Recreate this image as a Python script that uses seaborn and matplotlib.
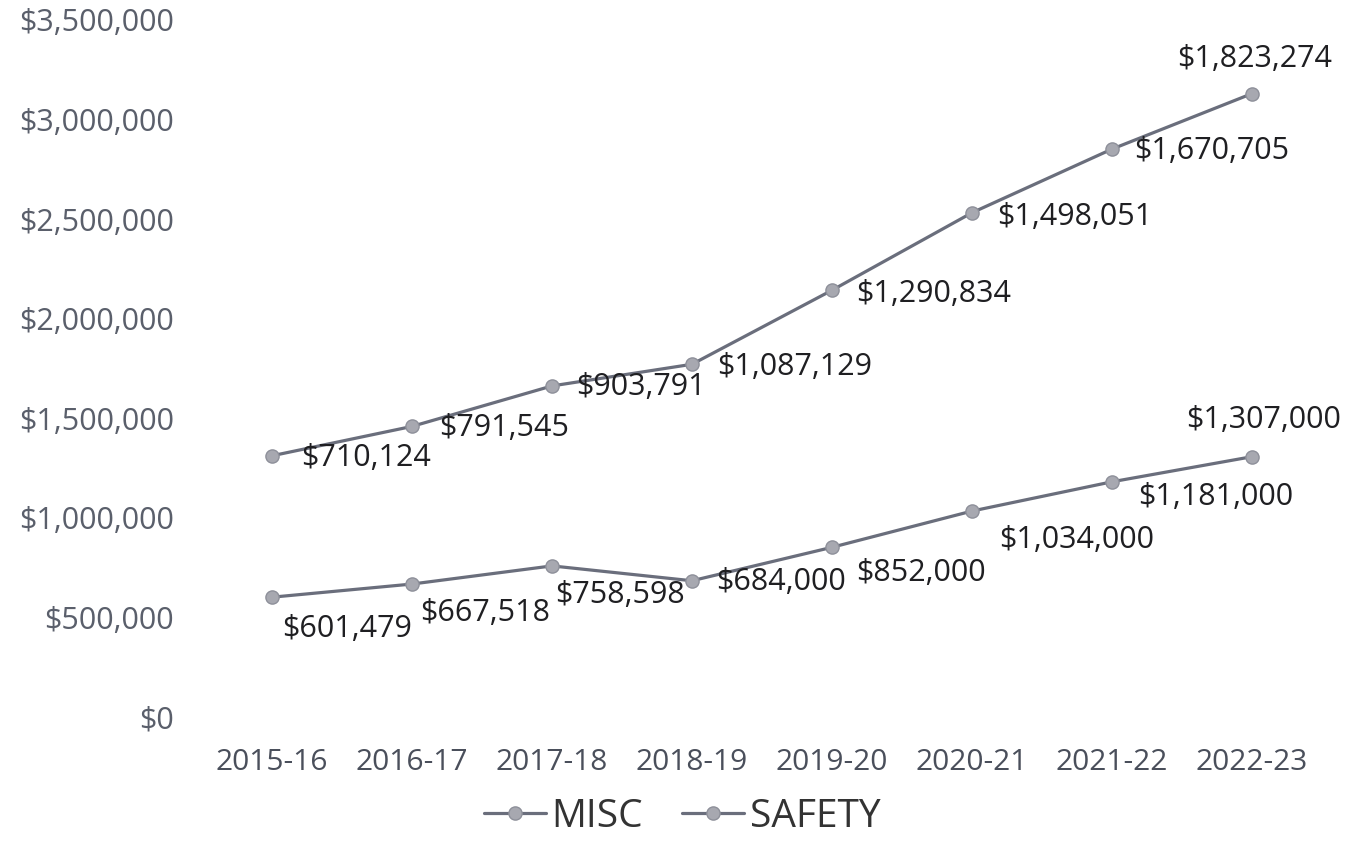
import numpy as np
import pandas as pd
import matplotlib
matplotlib.use("Agg")
import matplotlib.pyplot as plt
import seaborn as sns
from matplotlib.ticker import FuncFormatter

years = ["2015-16", "2016-17", "2017-18", "2018-19", "2019-20", "2020-21", "2021-22", "2022-23"]
misc = [601479, 667518, 758598, 684000, 852000, 1034000, 1181000, 1307000]
safety = [710124, 791545, 903791, 1087129, 1290834, 1498051, 1670705, 1823274]
yticks = [0, 500000, 1000000, 1500000, 2000000, 2500000, 3000000, 3500000]

# stacked line chart: SAFETY sits on top of MISC
misc_arr = np.array(misc)
safety_top = misc_arr + np.array(safety)

df = pd.DataFrame({
    "year": years * 2,
    "value": list(misc_arr) + list(safety_top),
    "series": ["MISC"] * len(years) + ["SAFETY"] * len(years),
})

sns.set_theme(style="white")
plt.rcParams["font.family"] = ["Open Sans", "DejaVu Sans"]

fig = plt.figure(figsize=(13.51, 8.51), dpi=100)
ax = fig.add_axes([0.1495, 0.1575, 0.829, 0.819])

line_col = "#6a6e7c"
mark_col = "#a7a8b0"
sns.lineplot(data=df, x="year", y="value", hue="series", sort=False,
             palette={"MISC": line_col, "SAFETY": line_col},
             marker="o", markersize=9.5, markerfacecolor=mark_col,
             markeredgecolor="#8e909a", markeredgewidth=1.0,
             linewidth=2.3, ax=ax, legend=True)

ax.set_ylim(0, 3500000)
ax.set_xlim(-0.5, len(years) - 0.5)
ax.set_yticks(yticks)
ax.yaxis.set_major_formatter(FuncFormatter(lambda v, p: f"${int(v):,}"))
ax.set_xlabel("")
ax.set_ylabel("")
ax.tick_params(axis="y", labelsize=22, labelcolor="#5a5f6b", length=0, pad=20)
ax.tick_params(axis="x", labelsize=21.5, labelcolor="#4a4f5b", length=0, pad=22)
for s in ax.spines.values():
    s.set_visible(False)
ax.grid(False)

# label offsets in pixels (dx, dy) relative to the point
safety_off = [(94, -2), (92, -2), (89, -1), (103, -3), (102, -4), (103, -4), (100, -2), (3, 35)]
misc_off = [(75, -32), (73, -29), (68, -29), (89, -1), (89, -26), (105, -29), (104, -15), (12, 37)]

for i, y in enumerate(years):
    ax.annotate(f"${safety[i]:,}", (i, safety_top[i]), xytext=safety_off[i],
                textcoords="offset pixels", ha="center", va="center",
                fontsize=22, color="#1f1f22")
    ax.annotate(f"${misc[i]:,}", (i, misc_arr[i]), xytext=misc_off[i],
                textcoords="offset pixels", ha="center", va="center",
                fontsize=22, color="#1f1f22")

handles, labels = ax.get_legend_handles_labels()
ax.legend_.remove()
fig.legend(handles, labels, loc="center", bbox_to_anchor=(0.505, 1 - 817 / 851),
           ncol=2, frameon=False, fontsize=28, handlelength=1.6,
           handletextpad=0.15, columnspacing=1.0, labelcolor="#333333")

fig.savefig("out.png", dpi=100)
